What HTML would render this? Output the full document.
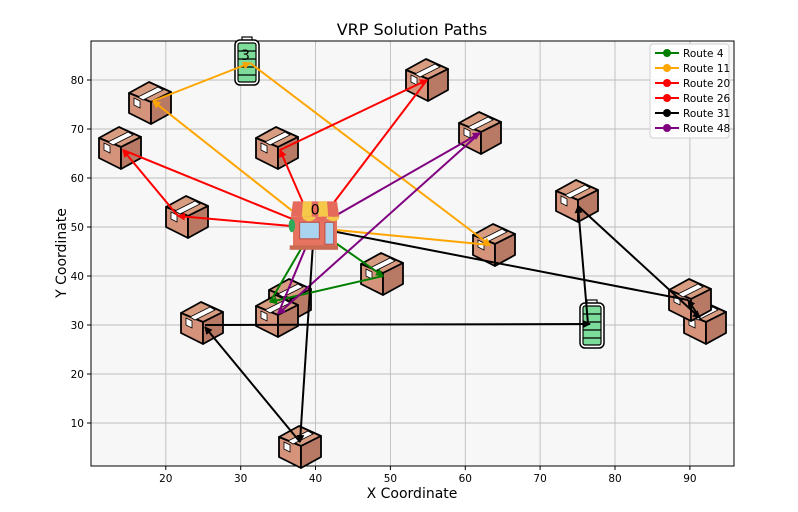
<!DOCTYPE html>
<html><head><meta charset="utf-8"><style>
html,body{margin:0;padding:0;background:#fff;}
svg{display:block;font-family:"DejaVu Sans","Liberation Sans",sans-serif;}
</style></head><body>
<svg width="798" height="512" viewBox="0 0 798 512" xmlns="http://www.w3.org/2000/svg">
<defs>
<marker id="ag" markerWidth="8" markerHeight="8" refX="7" refY="4" orient="auto" markerUnits="userSpaceOnUse"><path d="M0,0 L8,4 L0,8 Z" fill="green"/></marker>
<marker id="ao" markerWidth="8" markerHeight="8" refX="7" refY="4" orient="auto" markerUnits="userSpaceOnUse"><path d="M0,0 L8,4 L0,8 Z" fill="orange"/></marker>
<marker id="ar" markerWidth="8" markerHeight="8" refX="7" refY="4" orient="auto" markerUnits="userSpaceOnUse"><path d="M0,0 L8,4 L0,8 Z" fill="red"/></marker>
<marker id="ak" markerWidth="8" markerHeight="8" refX="7" refY="4" orient="auto" markerUnits="userSpaceOnUse"><path d="M0,0 L8,4 L0,8 Z" fill="black"/></marker>
<marker id="ap" markerWidth="8" markerHeight="8" refX="7" refY="4" orient="auto" markerUnits="userSpaceOnUse"><path d="M0,0 L8,4 L0,8 Z" fill="purple"/></marker>
<g id="box">
<polygon points="-21,-10 -1,-21 21,-11 1,-1" fill="#d89c80" stroke="#000" stroke-width="1.8" stroke-linejoin="round"/>
<polygon points="-21,-10 1,-1 1,21 -21,10" fill="#d4937a" stroke="#000" stroke-width="1.8" stroke-linejoin="round"/>
<polygon points="1,-1 21,-11 21,10 1,21" fill="#b87a64" stroke="#000" stroke-width="1.8" stroke-linejoin="round"/>
<polygon points="-12,-6 8,-16 13,-13 -7,-3" fill="#fff" stroke="#000" stroke-width="0.8"/>
<polygon points="-16,-5 -10,-2 -10,5 -16,2" fill="#fff" stroke="#000" stroke-width="0.8"/>
</g>
<g id="bat">
<rect x="-5" y="-25" width="10" height="4" fill="#fff" stroke="#000" stroke-width="1.2"/>
<rect x="-12" y="-22" width="24" height="45" rx="5" fill="#fff" stroke="#000" stroke-width="1.5"/>
<rect x="-9" y="-19" width="18" height="39" rx="2" fill="#7ddc9a" stroke="#000" stroke-width="1.2"/>
<path d="M-9,-11 H9 M-9,-3 H9 M-9,5 H9 M-9,13 H9" stroke="#000" stroke-width="1.2"/>
</g>
</defs>
<rect x="0" y="0" width="798" height="512" fill="#fff"/>
<rect x="91" y="41" width="643" height="425" fill="#f7f7f7"/>
<g stroke="#bdbdbd" stroke-width="0.9">
<path d="M165.8,41V466 M240.7,41V466 M315.5,41V466 M390.4,41V466 M465.3,41V466 M540.1,41V466 M615,41V466 M689.9,41V466"/>
<path d="M91,423H734 M91,374H734 M91,325H734 M91,276H734 M91,227H734 M91,178H734 M91,129H734 M91,80H734"/>
</g>
<rect x="91" y="41" width="643" height="425" fill="none" stroke="#000" stroke-width="1"/>
<g stroke="#000" stroke-width="1">
<path d="M165.8,466v4 M240.7,466v4 M315.5,466v4 M390.4,466v4 M465.3,466v4 M540.1,466v4 M615,466v4 M689.9,466v4"/>
<path d="M91,423h-4 M91,374h-4 M91,325h-4 M91,276h-4 M91,227h-4 M91,178h-4 M91,129h-4 M91,80h-4"/>
</g>
<g font-size="10.5" fill="#000" text-anchor="middle">
<text x="165.8" y="482">20</text><text x="240.7" y="482">30</text><text x="315.5" y="482">40</text><text x="390.4" y="482">50</text><text x="465.3" y="482">60</text><text x="540.1" y="482">70</text><text x="615" y="482">80</text><text x="689.9" y="482">90</text>
</g>
<g font-size="10.5" fill="#000" text-anchor="end">
<text x="84" y="427">10</text><text x="84" y="378">20</text><text x="84" y="329">30</text><text x="84" y="280">40</text><text x="84" y="231">50</text><text x="84" y="182">60</text><text x="84" y="133">70</text><text x="84" y="84">80</text>
</g>
<text x="412" y="35" font-size="16" text-anchor="middle">VRP Solution Paths</text>
<text x="412" y="498" font-size="14" text-anchor="middle">X Coordinate</text>
<text transform="translate(66,253) rotate(-90)" font-size="14" text-anchor="middle">Y Coordinate</text>

<!-- boxes -->
<use href="#box" x="150" y="103"/>
<use href="#box" x="120" y="148"/>
<use href="#box" x="187" y="217"/>
<use href="#box" x="277" y="148"/>
<use href="#box" x="427" y="80"/>
<use href="#box" x="480" y="133"/>
<use href="#box" x="577" y="201"/>
<use href="#box" x="494" y="245"/>
<use href="#box" x="382" y="274"/>
<use href="#box" x="290" y="300"/>
<use href="#box" x="277" y="316"/>
<use href="#box" x="202" y="323"/>
<use href="#box" x="300" y="447"/>
<use href="#box" x="705" y="323"/>
<use href="#box" x="690" y="300"/>
<!-- batteries -->
<use href="#bat" x="247" y="62"/>
<text x="241" y="60" font-size="14" fill="#000">3</text>
<use href="#bat" x="592" y="325"/>

<g fill="none" stroke-width="2">
<line x1="314" y1="228" x2="383" y2="276" stroke="green" marker-end="url(#ag)"/>
<line x1="383" y1="276" x2="270" y2="302" stroke="green" marker-end="url(#ag)"/>
<line x1="270" y1="302" x2="312" y2="230" stroke="green" marker-end="url(#ag)"/>
<line x1="314" y1="228" x2="153" y2="101" stroke="orange" marker-end="url(#ao)"/>
<line x1="153" y1="101" x2="250" y2="63" stroke="orange" marker-end="url(#ao)"/>
<line x1="250" y1="63" x2="490" y2="245" stroke="orange" marker-end="url(#ao)"/>
<line x1="490" y1="245" x2="316" y2="228" stroke="orange" marker-end="url(#ao)"/>
<line x1="314" y1="228" x2="178" y2="216" stroke="red" marker-end="url(#ar)"/>
<line x1="178" y1="216" x2="123" y2="150" stroke="red" marker-end="url(#ar)"/>
<line x1="123" y1="150" x2="312" y2="227" stroke="red" marker-end="url(#ar)"/>
<line x1="314" y1="228" x2="280" y2="150" stroke="red" marker-end="url(#ar)"/>
<line x1="280" y1="150" x2="427" y2="80" stroke="red" marker-end="url(#ar)"/>
<line x1="427" y1="80" x2="316" y2="226" stroke="red" marker-end="url(#ar)"/>
<line x1="314" y1="228" x2="480" y2="133" stroke="purple" marker-end="url(#ap)"/>
<line x1="480" y1="133" x2="278" y2="314" stroke="purple" marker-end="url(#ap)"/>
<line x1="278" y1="314" x2="313" y2="230" stroke="purple" marker-end="url(#ap)"/>
<line x1="314" y1="228" x2="300" y2="442" stroke="black" marker-end="url(#ak)"/>
<line x1="300" y1="442" x2="205" y2="327" stroke="black" marker-end="url(#ak)"/>
<line x1="205" y1="325" x2="590" y2="324" stroke="black" marker-end="url(#ak)"/>
<line x1="588" y1="324" x2="578" y2="206" stroke="black" marker-end="url(#ak)"/>
<line x1="578" y1="206" x2="700" y2="318" stroke="black" marker-end="url(#ak)"/>
<line x1="700" y1="318" x2="688" y2="300" stroke="black" marker-end="url(#ak)"/>
<line x1="688" y1="300" x2="316" y2="228" stroke="black" marker-end="url(#ak)"/>
</g>

<!-- depot -->
<g transform="translate(315,230) scale(1.1)">
<rect x="-20" y="-10" width="40" height="26" fill="#e5735f"/>
<path d="M-22,-12 L-20,-26 H20 L22,-12 Z" fill="#e56a5c"/>
<path d="M-11,-26 H-3 V-12 H-12 Z M3,-26 H11 L12,-12 H3 Z" fill="#f5c84a"/>
<path d="M-22,-12 a5.5,4 0 0 0 11,0 a5.5,4 0 0 0 11,0 a5.5,4 0 0 0 11,0 a5.5,4 0 0 0 11,0 Z" fill="#e56a5c"/>
<path d="M-11,-12 a5.5,4 0 0 0 11,0 Z M11,-12 a5.5,4 0 0 0 11,0 Z" fill="#f5c84a"/>
<rect x="-14" y="-7" width="18" height="15" fill="#a9d3ee" stroke="#c0504a" stroke-width="1"/>
<rect x="9" y="-7" width="8" height="20" fill="#a9d3ee" stroke="#c0504a" stroke-width="1"/>
<ellipse cx="-21" cy="-4" rx="3" ry="6" fill="#2eaa5a"/>
<rect x="-23" y="14" width="44" height="4" fill="#c96a52"/>
<text x="-4" y="-14" font-size="13" fill="#000">0</text>
</g>

<!-- legend -->
<rect x="650" y="44" width="79" height="94" rx="3" fill="#fff" fill-opacity="0.85" stroke="#d0d0d0"/>
<g stroke-width="2">
<line x1="655" y1="53" x2="679" y2="53" stroke="green"/><circle cx="667" cy="53" r="4" fill="green"/>
<line x1="655" y1="68" x2="679" y2="68" stroke="orange"/><circle cx="667" cy="68" r="4" fill="orange"/>
<line x1="655" y1="83" x2="679" y2="83" stroke="red"/><circle cx="667" cy="83" r="4" fill="red"/>
<line x1="655" y1="98" x2="679" y2="98" stroke="red"/><circle cx="667" cy="98" r="4" fill="red"/>
<line x1="655" y1="113" x2="679" y2="113" stroke="black"/><circle cx="667" cy="113" r="4" fill="black"/>
<line x1="655" y1="128" x2="679" y2="128" stroke="purple"/><circle cx="667" cy="128" r="4" fill="purple"/>
</g>
<g font-size="10.5" fill="#000">
<text x="683" y="57">Route 4</text>
<text x="683" y="72">Route 11</text>
<text x="683" y="87">Route 20</text>
<text x="683" y="102">Route 26</text>
<text x="683" y="117">Route 31</text>
<text x="683" y="132">Route 48</text>
</g>
</svg>
</body></html>
